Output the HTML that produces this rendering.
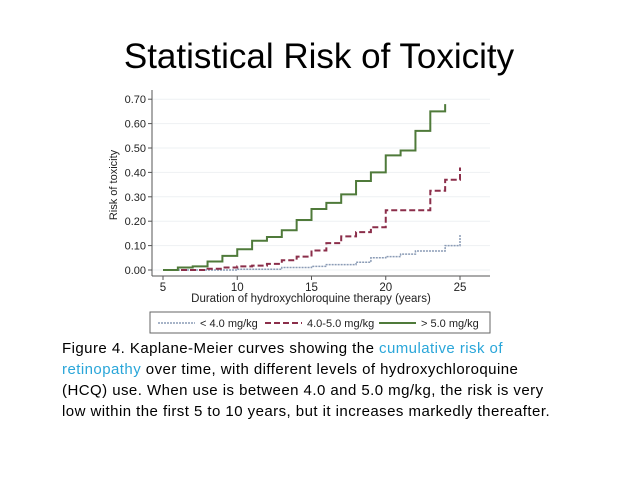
<!DOCTYPE html>
<html><head><meta charset="utf-8"><style>
body{margin:0;background:#fff;width:638px;height:479px;overflow:hidden;position:relative;font-family:"Liberation Sans",sans-serif}
#title{position:absolute;left:0;width:638px;top:37px;text-align:center;font-size:35px;color:#000}
#cap{position:absolute;left:62px;top:338px;font-size:15px;letter-spacing:0.45px;line-height:21px;color:#000;white-space:nowrap}
#cap span{color:#2aa6d9}
svg{position:absolute;left:0;top:0}
</style></head><body>
<div id="title">Statistical Risk of Toxicity</div>
<svg id="chart" width="638" height="479"></svg>
<div id="cap">Figure 4. Kaplane-Meier curves showing the <span>cumulative risk of<br>retinopathy</span> over time, with different levels of hydroxychloroquine<br>(HCQ) use. When use is between 4.0 and 5.0 mg/kg, the risk is very<br>low within the first 5 to 10 years, but it increases markedly thereafter.</div>
<script>
const xTicks=[5,10,15,20,25];
const yTicks=[0,0.1,0.2,0.3,0.4,0.5,0.6,0.7];
const yLabels=["0.00","0.10","0.20","0.30","0.40","0.50","0.60","0.70"];
const lowX=[5,10,13,15,16,18,19,20,21,22,24,25];
const lowY=[0,0.003,0.01,0.015,0.022,0.032,0.05,0.055,0.065,0.078,0.1,0.145];
const midX=[5,8,9,10,11,12,13,14,15,16,17,18,19,20,23,24,25];
const midY=[0,0.005,0.01,0.015,0.018,0.025,0.04,0.055,0.08,0.11,0.138,0.155,0.175,0.245,0.325,0.37,0.42];
const highX=[5,6,7,8,9,10,11,12,13,14,15,16,17,18,19,20,21,22,23,24];
const highY=[0,0.01,0.015,0.035,0.058,0.085,0.12,0.135,0.163,0.205,0.25,0.275,0.31,0.365,0.40,0.47,0.49,0.57,0.65,0.68];
const seriesEnd=[25,25,24];
const NS="http://www.w3.org/2000/svg";
const svg=document.getElementById('chart');
const sx=v=>163+(v-5)*14.85;
const sy=v=>270-v*244;
function mk(t,a){const e=document.createElementNS(NS,t);for(const k in a)e.setAttribute(k,a[k]);svg.appendChild(e);return e;}
yTicks.forEach((v,i)=>{
 const g=mk('line',{x1:152,x2:490,y1:sy(v),y2:sy(v),stroke:'#eef1f3','stroke-width':1});
 
 
 mk('line',{x1:148,x2:152,y1:sy(v),y2:sy(v),stroke:'#555'});
 const t=mk('text',{x:146,y:sy(v)+4,'text-anchor':'end','font-size':11,fill:'#222'});
 t.textContent=yLabels[i];
 
 
});
mk('line',{x1:152,x2:152,y1:90,y2:276,stroke:'#555'});
mk('line',{x1:152,x2:490,y1:276,y2:276,stroke:'#555'});
xTicks.forEach(v=>{
 mk('line',{x1:sx(v),x2:sx(v),y1:276,y2:280,stroke:'#555'});
 const t=mk('text',{x:sx(v),y:291,'text-anchor':'middle','font-size':11.5,fill:'#222'});
 t.textContent=v;
 
 
});
const xt=mk('text',{x:311,y:302,'text-anchor':'middle','font-size':11.5,fill:'#222'});
xt.textContent='Duration of hydroxychloroquine therapy (years)';


const yt=mk('text',{x:0,y:0,'text-anchor':'middle','font-size':11,fill:'#222',transform:'translate(117,185) rotate(-90)'});
yt.textContent='Risk of toxicity';


function step(xs,ys,end){let d='M'+sx(xs[0])+','+sy(ys[0]);for(let i=1;i<xs.length;i++){d+=' H'+sx(xs[i])+' V'+sy(ys[i]);}if(end>xs[xs.length-1])d+=' H'+sx(end);return d;}
const series=[[lowX,lowY,'#8a9bb5','1.5','2 1','low-dose-line'],[midX,midY,'#8b2e4a','2','6 3','mid-dose-line'],[highX,highY,'#4f7a3a','2','','high-dose-line']];
series.forEach((s,i)=>{
 const p=mk('path',{d:step(s[0],s[1],seriesEnd[i]),fill:'none',stroke:s[2],'stroke-width':s[3],'stroke-dasharray':s[4]});
 
 
});
const lb=mk('rect',{x:150,y:312,width:340,height:21,fill:'#fff',stroke:'#666','stroke-width':1});


const leg=[[158,'< 4.0 mg/kg'],[265,'4.0-5.0 mg/kg'],[379,'> 5.0 mg/kg']];
leg.forEach((l,i)=>{
 const s=series[i];
 mk('line',{x1:l[0],x2:l[0]+37,y1:323,y2:323,stroke:s[2],'stroke-width':s[3],'stroke-dasharray':s[4]});
 const t=mk('text',{x:l[0]+42,y:327,'font-size':11,fill:'#222'});
 t.textContent=l[1];
 
 
});
</script>
</body></html>
